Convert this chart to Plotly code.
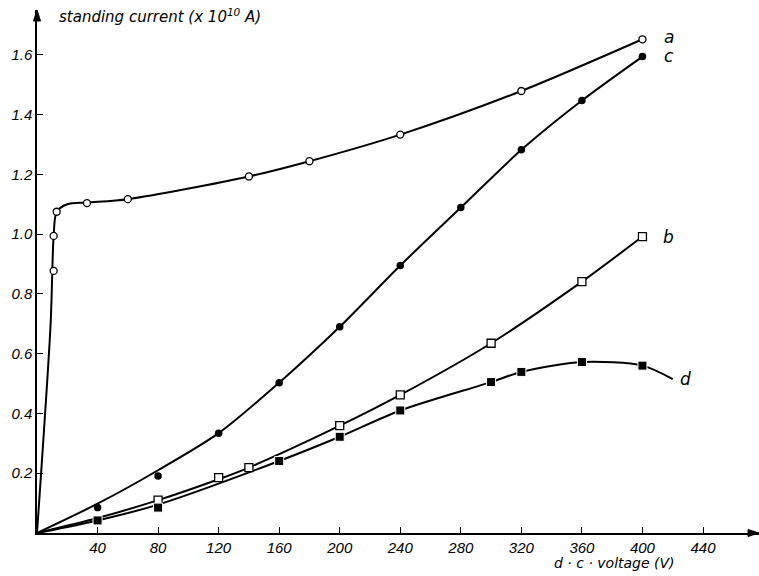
import plotly.graph_objects as go

# ---- data ----
a_x = [11, 11, 13, 33, 60, 140, 180, 240, 320, 400]
a_y = [0.877, 0.994, 1.075, 1.104, 1.117, 1.193, 1.244, 1.333, 1.479, 1.652]

c_x = [40, 80, 120, 160, 200, 240, 280, 320, 360, 400]
c_y = [0.085, 0.191, 0.334, 0.503, 0.690, 0.895, 1.089, 1.282, 1.447, 1.594]

b_x = [80, 120, 140, 200, 240, 300, 360, 400]
b_y = [0.110, 0.185, 0.219, 0.359, 0.462, 0.635, 0.841, 0.992]

d_x = [40, 80, 160, 200, 240, 300, 320, 360, 400]
d_y = [0.042, 0.085, 0.241, 0.322, 0.410, 0.505, 0.539, 0.572, 0.560]

# fitted curves drawn through the points (start at origin)
a_curve_x = [0, 9, 11, 13, 20, 33, 60, 140, 180, 240, 320, 400]
a_curve_y = [0, 0.70, 0.994, 1.075, 1.100, 1.106, 1.117, 1.193, 1.244, 1.333, 1.479, 1.652]
c_curve_x = [0, 40, 80, 120, 160, 200, 240, 280, 320, 360, 400]
c_curve_y = [0, 0.098, 0.210, 0.334, 0.503, 0.690, 0.895, 1.089, 1.282, 1.447, 1.594]
b_curve_x = [0, 40, 80, 120, 140, 200, 240, 300, 360, 400]
b_curve_y = [0, 0.050, 0.110, 0.180, 0.219, 0.359, 0.462, 0.635, 0.841, 0.992]
d_curve_x = [0, 40, 80, 160, 200, 240, 300, 320, 360, 400, 420]
d_curve_y = [0, 0.042, 0.095, 0.241, 0.322, 0.410, 0.505, 0.539, 0.572, 0.560, 0.515]

labels = ["a", "c", "b", "d"]

x_ticks = [40, 80, 120, 160, 200, 240, 280, 320, 360, 400, 440]
y_ticks = [0.2, 0.4, 0.6, 0.8, 1.0, 1.2, 1.4, 1.6]
y_tick_text = ["0.2", "0.4", "0.6", "0.8", "1.0", "1.2", "1.4", "1.6"]

FONT = "Liberation Sans, DejaVu Sans"
PW, PH = 722, 523  # plot area size in px

fig = go.Figure()

for cx, cy in [(a_curve_x, a_curve_y), (c_curve_x, c_curve_y),
               (b_curve_x, b_curve_y), (d_curve_x, d_curve_y)]:
    fig.add_trace(go.Scatter(x=cx, y=cy, mode="lines",
                             line=dict(color="black", width=2, shape="spline", smoothing=0.8),
                             hoverinfo="skip", showlegend=False))

fig.add_trace(go.Scatter(x=a_x, y=a_y, mode="markers", showlegend=False,
                         marker=dict(symbol="circle", size=7, color="white",
                                     line=dict(color="black", width=1.3))))
fig.add_trace(go.Scatter(x=c_x, y=c_y, mode="markers", showlegend=False,
                         marker=dict(symbol="circle", size=7.5, color="black",
                                     line=dict(color="black", width=0))))
fig.add_trace(go.Scatter(x=b_x, y=b_y, mode="markers", showlegend=False,
                         marker=dict(symbol="square", size=8, color="white",
                                     line=dict(color="black", width=1.3))))
fig.add_trace(go.Scatter(x=d_x, y=d_y, mode="markers", showlegend=False,
                         marker=dict(symbol="square", size=9, color="black",
                                     line=dict(color="white", width=1))))

# curve labels
label_pos = [(a_x[-1], a_y[-1], 27, 2), (c_x[-1], c_y[-1], 27, 1),
             (b_x[-1], b_y[-1], 26, 0), (d_curve_x[-1], d_curve_y[-1], 13, 0)]
for lab, (lx, ly, dx, dy) in zip(labels, label_pos):
    fig.add_annotation(x=lx, y=ly, text=lab, showarrow=False, xshift=dx, yshift=dy,
                       font=dict(family="DejaVu Sans", size=17, color="black", style="italic"))

# axis titles
fig.add_annotation(xref="paper", yref="paper", x=20 / PW, y=1 - 6 / PH, xanchor="left", yanchor="middle",
                   text="standing current (x 10<sup>10</sup> A)", showarrow=False,
                   font=dict(family="DejaVu Sans", size=15, color="black", style="italic"))
fig.add_annotation(xref="paper", yref="paper", x=0.80, y=-30 / PH, xanchor="center", yanchor="middle",
                   text="d · c · voltage (V)", showarrow=False,
                   font=dict(family="DejaVu Sans", size=14, color="black", style="italic"))

# axis arrowheads
fig.add_shape(type="path", xref="paper", yref="paper",
              path=f"M 1 0 L {1 - 11 / PW} {3.5 / PH} L {1 - 11 / PW} {-3.5 / PH} Z",
              fillcolor="black", line=dict(color="black", width=1))
fig.add_shape(type="path", xref="paper", yref="paper",
              path=f"M 0 1 L {3.5 / PW} {1 - 11 / PH} L {-3.5 / PW} {1 - 11 / PH} Z",
              fillcolor="black", line=dict(color="black", width=1))

fig.update_xaxes(range=[0, 477], tickvals=x_ticks, ticks="inside", ticklen=6, tickwidth=1,
                 tickcolor="black", showline=True, linecolor="black", linewidth=1.5,
                 showgrid=False, zeroline=False,
                 tickfont=dict(family=FONT, size=15, color="black", style="italic"))
fig.update_yaxes(range=[0, 1.75], tickvals=y_ticks, ticktext=y_tick_text, ticks="inside",
                 ticklen=6, tickwidth=1, tickcolor="black", showline=True, linecolor="black",
                 linewidth=1.5, showgrid=False, zeroline=False,
                 tickfont=dict(family=FONT, size=15, color="black", style="italic"))

fig.update_layout(width=759, height=576, margin=dict(l=37, r=0, t=10, b=43),
                  plot_bgcolor="white", paper_bgcolor="white")

fig.write_html("out.html")
